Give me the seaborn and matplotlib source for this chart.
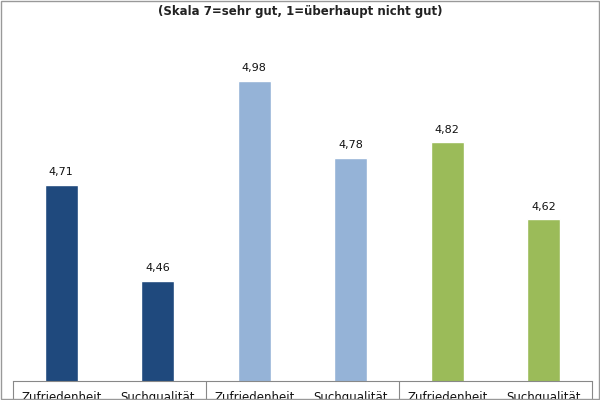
import matplotlib
matplotlib.use("Agg")
import matplotlib.pyplot as plt
import seaborn as sns
import pandas as pd

# ── Data ──────────────────────────────────────────────────────────────────────
labels = ["Zufriedenheit", "Suchqualität"] * 3
values = [4.71, 4.46, 4.98, 4.78, 4.82, 4.62]
groups = ["g1", "g1", "g2", "g2", "g3", "g3"]
palette = ["#1F497D", "#1F497D", "#95B3D7", "#95B3D7", "#9BBB59", "#9BBB59"]

df = pd.DataFrame({"pos": range(len(values)), "value": values})

sns.set_style("white")
plt.rcParams["font.family"] = ["DejaVu Sans"]

fig = plt.figure(figsize=(6, 4), dpi=100)
ax = fig.add_axes([13 / 600, 19 / 400, 579 / 600, 381 / 400])

sns.barplot(data=df, x="pos", y="value", hue="pos", palette=palette,
            legend=False, width=0.34, saturation=1, ax=ax)

ax.set_ylim(4.2, 5.19)
ax.set_xlim(-0.5, 5.5)
ax.set_yticks([])
ax.set_xlabel("")
ax.set_ylabel("")
for s in ["top", "right", "left"]:
    ax.spines[s].set_visible(False)
ax.spines["bottom"].set_color("#888888")
ax.spines["bottom"].set_linewidth(0.8)

ax.set_xticks(range(len(labels)))
ax.set_xticklabels(labels, fontsize=8.5, color="#111111")
ax.tick_params(axis="x", which="major", length=0, pad=7)
ax.set_xticks([-0.5, 1.5, 3.5, 5.5], minor=True)
ax.tick_params(axis="x", which="minor", bottom=True, length=25, width=0.8,
               color="#888888", direction="out")

for i, v in enumerate(values):
    ax.text(i, v + 0.02, f"{v:.2f}".replace(".", ","), ha="center",
            va="bottom", fontsize=8, color="#111111")

fig.text(0.5, 0.97, "(Skala 7=sehr gut, 1=überhaupt nicht gut)",
         ha="center", va="center", fontsize=8.5, fontweight="bold",
         color="#222222")

fig.patches.append(plt.Rectangle((0.002, 0.002), 0.996, 0.996,
                                 transform=fig.transFigure, fill=False,
                                 edgecolor="#999999", linewidth=1))

fig.savefig("out.png", dpi=100)
